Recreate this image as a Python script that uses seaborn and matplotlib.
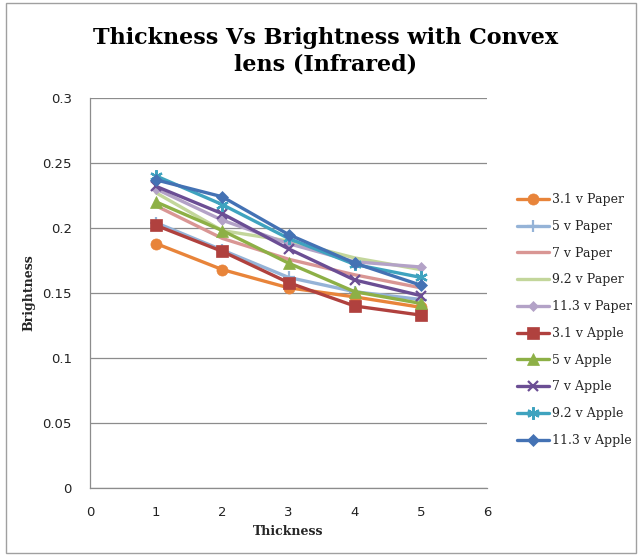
import matplotlib
matplotlib.use("Agg")
import matplotlib.pyplot as plt
import seaborn as sns
import pandas as pd
from matplotlib.patches import Rectangle

thickness = [1, 2, 3, 4, 5]
series_names = ["3.1 v Paper", "5 v Paper", "7 v Paper", "9.2 v Paper", "11.3 v Paper",
                "3.1 v Apple", "5 v Apple", "7 v Apple", "9.2 v Apple", "11.3 v Apple"]
paper_3_1 = [0.188, 0.168, 0.154, 0.147, 0.139]
paper_5 = [0.204, 0.183, 0.162, 0.151, 0.145]
paper_7 = [0.217, 0.192, 0.176, 0.164, 0.154]
paper_9_2 = [0.227, 0.198, 0.190, 0.177, 0.168]
paper_11_3 = [0.230, 0.206, 0.188, 0.174, 0.170]
apple_3_1 = [0.202, 0.182, 0.158, 0.140, 0.133]
apple_5 = [0.220, 0.198, 0.173, 0.151, 0.142]
apple_7 = [0.232, 0.211, 0.184, 0.160, 0.148]
apple_9_2 = [0.240, 0.218, 0.192, 0.172, 0.162]
apple_11_3 = [0.237, 0.224, 0.195, 0.173, 0.156]
values = [paper_3_1, paper_5, paper_7, paper_9_2, paper_11_3,
          apple_3_1, apple_5, apple_7, apple_9_2, apple_11_3]
y_ticks = [0, 0.05, 0.1, 0.15, 0.2, 0.25, 0.3]
y_tick_labels = ["0", "0.05", "0.1", "0.15", "0.2", "0.25", "0.3"]
x_ticks = [0, 1, 2, 3, 4, 5, 6]

colors = ["#E8843A", "#95B3D7", "#D99694", "#C3D69B", "#B3A2C7",
          "#B0413E", "#8DB046", "#6B4E94", "#3FA3BF", "#4472B4"]
markers = ["o", "+", None, None, "D", "s", "^", "x", (6, 2, 0), "D"]
msizes = [8, 9, 0, 0, 5, 8.5, 8.5, 7, 9, 6]

df = pd.DataFrame({
    "Thickness": thickness * len(series_names),
    "Brightness": [v for vals in values for v in vals],
    "Series": [n for n in series_names for _ in thickness],
})

sns.set_style("white")
fig = plt.figure(figsize=(6.41, 5.56), dpi=100)
ax = fig.add_axes([90 / 641, 1 - 488 / 556, (487 - 90) / 641, (488 - 98) / 556])

for name, c, m, ms in zip(series_names, colors, markers, msizes):
    sub = df[df["Series"] == name]
    kw = dict(marker=m, markersize=ms, markeredgewidth=1.6 if m in ("+", "x", (6, 2, 0)) else 0.5,
              markeredgecolor=c) if m is not None else {}
    sns.lineplot(data=sub, x="Thickness", y="Brightness", ax=ax, color=c,
                 linewidth=2.4, label=name, **kw)

ax.set_xlim(0, 6)
ax.set_ylim(0, 0.3)
ax.set_yticks(y_ticks)
ax.set_yticklabels(y_tick_labels)
ax.set_xticks(x_ticks)
ax.grid(axis="y", color="#8C8C8C", linewidth=0.9)
ax.grid(axis="x", visible=False)
for s in ["top", "right"]:
    ax.spines[s].set_visible(False)
for s in ["left", "bottom"]:
    ax.spines[s].set_color("#8C8C8C")
    ax.spines[s].set_linewidth(0.9)
ax.tick_params(axis="both", colors="#8C8C8C", length=5, width=0.9, direction="out",
               labelcolor="#222222", labelsize=9.5)
ax.tick_params(axis="y", pad=8)
ax.tick_params(axis="x", pad=8)
for lab in ax.get_xticklabels() + ax.get_yticklabels():
    lab.set_family("DejaVu Sans")

ax.set_xlabel("Thickness", family="DejaVu Serif", fontweight="bold", fontsize=9, labelpad=4)
ax.set_ylabel("Brightness", family="DejaVu Serif", fontweight="bold", fontsize=9)
ax.yaxis.set_label_coords((35 - 90) / 397, 0.5)

fig.text(0.508, 0.908, "Thickness Vs Brightness with Convex\nlens (Infrared)",
         ha="center", va="center", family="DejaVu Serif", fontweight="bold",
         fontsize=16, linespacing=1.25, color="black")

leg = ax.legend(loc="center left", bbox_to_anchor=(506 / 641, 1 - 320 / 556),
                bbox_transform=fig.transFigure, frameon=False,
                prop={"family": "DejaVu Serif", "size": 9},
                labelspacing=1.1, handlelength=2.5, handletextpad=0.3)

fig.patches.append(Rectangle((6 / 641, 3 / 556), 630 / 641, 550 / 556,
                             transform=fig.transFigure, fill=False,
                             edgecolor="#A0A0A0", linewidth=1.0))

fig.savefig("out.png", dpi=100)
